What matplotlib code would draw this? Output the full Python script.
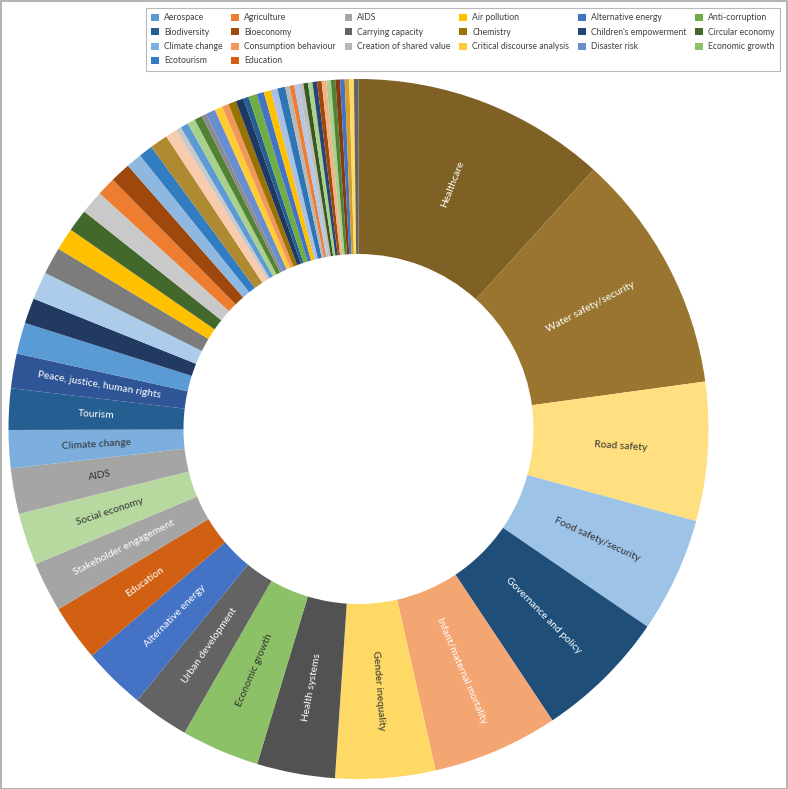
import matplotlib
matplotlib.use("Agg")
import matplotlib.pyplot as plt
from matplotlib.patches import Patch, Rectangle
import math

# ---- data (share of total, in pie order) ----
labeled_names = ["Healthcare", "Water safety/security", "Road safety", "Food safety/security",
                 "Governance and policy", "Infant/maternal mortality", "Gender inequality",
                 "Health systems", "Economic growth", "Urban development", "Alternative energy",
                 "Education", "Stakeholder engagement", "Social economy", "AIDS",
                 "Climate change", "Tourism", "Peace, justice, human rights"]
labeled_values = [11.7, 11.1, 6.4, 5.3, 6.1, 5.8, 4.6, 3.6, 3.6, 2.6, 2.9, 2.6, 2.3, 2.4, 2.1,
                  1.75, 1.9, 1.6]
labeled_colors = ["#7F6126", "#9A7530", "#FFDF80", "#9DC3E6", "#1F4E79", "#F4A672", "#FFD966",
                  "#525252", "#8CC168", "#636363", "#4472C4", "#D26012", "#A5A5A5", "#B7D9A0",
                  "#A5A5A5", "#7CAFDD", "#255E91", "#2F5597"]
labeled_text_colors = ["white", "white", "#333333", "#333333", "white", "white", "#333333",
                       "white", "#333333", "white", "white", "white", "white", "#333333",
                       "#333333", "#333333", "white", "white"]

small_names = ["Aerospace", "Other topic 1", "Other topic 2", "Other topic 3", "Air pollution",
               "Circular economy", "Other topic 4", "Agriculture", "Bioeconomy", "Other topic 5",
               "Ecotourism", "Other topic 6", "Other topic 7", "Other topic 8", "Other topic 9",
               "Other topic 10", "Other topic 11", "Other topic 12", "Disaster risk",
               "Critical discourse analysis", "Consumption behaviour", "Chemistry",
               "Other topic 13", "Biodiversity", "Anti-corruption", "Other topic 14",
               "Other topic 15", "Other topic 16", "Other topic 17", "Creation of shared value",
               "Other topic 18", "Other topic 19", "Other topic 20", "Other topic 21",
               "Other topic 22", "Children's empowerment", "Other topic 23", "Other topic 24",
               "Other topic 25", "Other topic 26", "Other topic 27", "Other topic 28",
               "Other topic 29", "Other topic 30", "Carrying capacity"]
small_values = [1.44, 1.17, 1.28, 1.25, 1.03, 1.03, 1.08, 0.86, 0.94, 0.72, 0.64, 0.83, 0.53,
                0.25, 0.36, 0.36, 0.36, 0.22, 0.44, 0.36, 0.31, 0.36, 0.36, 0.25, 0.39, 0.33,
                0.33, 0.31, 0.36, 0.21, 0.21, 0.21, 0.21, 0.21, 0.21, 0.21, 0.21, 0.21, 0.21,
                0.21, 0.21, 0.21, 0.21, 0.21, 0.21]
small_colors = ["#5B9BD5", "#223962", "#ADCBEA", "#7C7C7C", "#FFC000", "#43682B", "#C9C9C9",
                "#ED7D31", "#9E480E", "#8FB8E0", "#327DC2", "#B08A30", "#F8CBAD", "#C9C9C9",
                "#5B9BD5", "#A9D18E", "#548235", "#8C8C8C", "#698ED0", "#FFCD33", "#F1975A",
                "#997300", "#1F3864", "#255E91", "#70AD47", "#4472C4", "#FFC000", "#A9BFE4",
                "#2E75B6", "#B7B7B7", "#ED7D31", "#B4C7E7", "#BFBFBF", "#385723", "#A9D18E",
                "#264478", "#9E480E", "#F4B183", "#A9D18E", "#548235", "#843C0C", "#4472C4",
                "#D4A02A", "#FFD966", "#636363"]

legend_names = ["Aerospace", "Agriculture", "AIDS", "Air pollution", "Alternative energy",
                "Anti-corruption", "Biodiversity", "Bioeconomy", "Carrying capacity", "Chemistry",
                "Children's empowerment", "Circular economy", "Climate change",
                "Consumption behaviour", "Creation of shared value", "Critical discourse analysis",
                "Disaster risk", "Economic growth", "Ecotourism", "Education"]

names = labeled_names + small_names
values = labeled_values + small_values
colors = labeled_colors + small_colors
color_of = dict(zip(names, colors))

plt.rcParams['font.family'] = ['Lato', 'DejaVu Sans']

W, H = 788, 789
fig = plt.figure(figsize=(W / 100, H / 100), dpi=100)
cx, cy, R = 358.5, 429, 350
ax = fig.add_axes([(cx - R) / W, (H - cy - R) / H, 2 * R / W, 2 * R / H])
wedges, _ = ax.pie(values, colors=colors, startangle=90, counterclock=False, radius=1.0,
                   wedgeprops=dict(width=0.5, linewidth=0))
ax.set_xlim(-1, 1)
ax.set_ylim(-1, 1)
ax.set_aspect('equal')
ax.axis('off')

for w, name, tc in zip(wedges[:len(labeled_names)], labeled_names, labeled_text_colors):
    phi = (w.theta1 + w.theta2) / 2.0
    x = 0.75 * math.cos(math.radians(phi))
    y = 0.75 * math.sin(math.radians(phi))
    rot = phi
    while rot > 90:
        rot -= 180
    while rot <= -90:
        rot += 180
    ax.text(x, y, name, rotation=rot, rotation_mode='anchor', ha='center', va='center',
            color=tc, fontsize=7.4)

# legend, row-major order reorganised for matplotlib's column-major filling
ncol = 6
nrows, nlarge = divmod(len(legend_names), ncol)
cols = []
for c in range(ncol):
    col = [legend_names[r * ncol + c] for r in range(nrows + 1) if r * ncol + c < len(legend_names)]
    cols.append(col)
ordered = [n for col in cols for n in col]
handles = [Patch(facecolor=color_of[n], edgecolor='none', label=n) for n in ordered]
leg = fig.legend(handles=handles, loc='upper right', bbox_to_anchor=(784 / W, 1 - 4 / H),
                 ncol=ncol, fontsize=6.2, frameon=True, fancybox=False, handlelength=0.9,
                 handleheight=0.9, handletextpad=0.6, columnspacing=1.0, labelspacing=0.62,
                 borderpad=0.6, labelcolor='#404040')
leg.get_frame().set_edgecolor('#A6A6A6')
leg.get_frame().set_linewidth(0.8)

fig.patches.append(Rectangle((0.5 / W, 0.5 / H), 1 - 1.5 / W, 1 - 1.5 / H, transform=fig.transFigure,
                             fill=False, edgecolor='#A6A6A6', linewidth=1.2))

fig.savefig('out.png', dpi=100)
